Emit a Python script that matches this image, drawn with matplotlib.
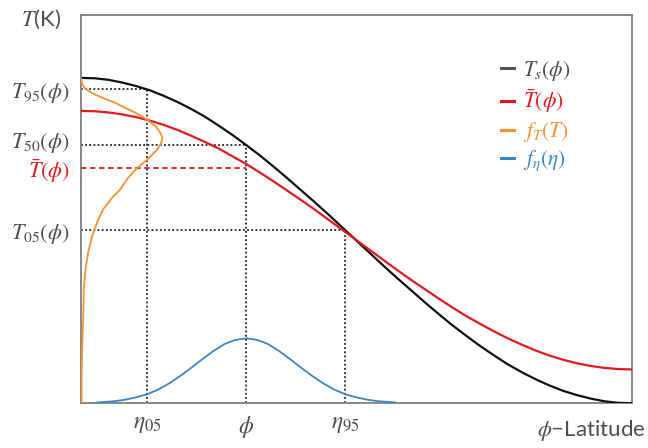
import matplotlib
matplotlib.use("Agg")
import matplotlib.pyplot as plt
from matplotlib.transforms import ScaledTranslation

plt.rcParams["font.family"] = ["Lato", "DejaVu Sans"]
plt.rcParams["mathtext.fontset"] = "stix"

# latitude axis (normalised) and the two temperature profiles
lat = [0.000, 0.025, 0.050, 0.075, 0.100, 0.125, 0.150, 0.175, 0.200, 0.225,
       0.250, 0.275, 0.300, 0.325, 0.350, 0.375, 0.400, 0.425, 0.450, 0.475,
       0.500, 0.525, 0.550, 0.575, 0.600, 0.625, 0.650, 0.675, 0.700, 0.725,
       0.750, 0.775, 0.800, 0.825, 0.850, 0.875, 0.900, 0.925, 0.950, 0.975, 1.000]
ts = [0.838, 0.837, 0.833, 0.826, 0.817, 0.806, 0.792, 0.776, 0.758, 0.738,
      0.715, 0.691, 0.665, 0.638, 0.609, 0.579, 0.548, 0.517, 0.485, 0.452,
      0.419, 0.386, 0.353, 0.321, 0.290, 0.259, 0.229, 0.200, 0.173, 0.147,
      0.123, 0.100, 0.080, 0.062, 0.046, 0.032, 0.021, 0.012, 0.005, 0.001, 0.000]
tbar = [0.753, 0.752, 0.749, 0.744, 0.737, 0.728, 0.717, 0.704, 0.689, 0.673,
        0.656, 0.636, 0.616, 0.594, 0.571, 0.547, 0.523, 0.498, 0.472, 0.446,
        0.420, 0.394, 0.368, 0.342, 0.317, 0.293, 0.269, 0.246, 0.224, 0.204,
        0.185, 0.167, 0.151, 0.136, 0.123, 0.112, 0.103, 0.096, 0.091, 0.088, 0.087]

# temperature pdf f_T(T), drawn sideways off the T axis
pdf_t_temp = [0.003, 0.062, 0.139, 0.216, 0.293, 0.344, 0.388, 0.429, 0.465, 0.499,
              0.532, 0.550, 0.576, 0.594, 0.607, 0.627, 0.653, 0.668, 0.684, 0.699,
              0.712, 0.725, 0.738, 0.751, 0.763, 0.774, 0.784, 0.794, 0.803, 0.812,
              0.822, 0.838]
pdf_t_dens = [0.001, 0.001, 0.002, 0.004, 0.005, 0.008, 0.013, 0.020, 0.029, 0.040,
              0.058, 0.071, 0.083, 0.094, 0.103, 0.120, 0.138, 0.145, 0.148, 0.143,
              0.136, 0.125, 0.112, 0.095, 0.077, 0.062, 0.044, 0.027, 0.015, 0.007,
              0.002, 0.000]

# latitude pdf f_eta(eta)
eta = [0.03, 0.04, 0.06, 0.08, 0.10, 0.12, 0.14, 0.16, 0.18, 0.20, 0.22, 0.24, 0.26, 0.28, 0.30,
       0.32, 0.34, 0.36, 0.38, 0.40, 0.42, 0.44, 0.46, 0.48, 0.50, 0.52, 0.54, 0.56, 0.57]
pdf_eta = [0.002, 0.003, 0.005, 0.009, 0.015, 0.023, 0.035, 0.051, 0.070, 0.091, 0.113, 0.134, 0.152,
           0.163, 0.167, 0.163, 0.152, 0.134, 0.113, 0.091, 0.070, 0.051, 0.035, 0.023, 0.015,
           0.009, 0.005, 0.003, 0.002]

# quantiles
phi = 0.30
eta05, eta95 = 0.12, 0.48
t95, t50, tmean, t05 = 0.809, 0.665, 0.607, 0.445

RED = "#e3191c"
ORANGE = "#f5922f"
BLUE = "#3a86c2"
GRAY = "#4d4d4d"

fig, ax = plt.subplots(figsize=(6.48, 4.48), dpi=100)
fig.subplots_adjust(left=0.125, right=0.975, bottom=0.100, top=0.9665)

ax.plot(lat, ts, color="#111111", lw=1.6, label=r"$T_s(\phi)$", zorder=3)
ax.plot(lat, tbar, color=RED, lw=1.6, label=r"$\bar{T}(\phi)$", zorder=3)
ax.plot(pdf_t_dens, pdf_t_temp, color=ORANGE, lw=1.3, label=r"$f_T(T)$", zorder=3)
ax.plot(eta, pdf_eta, color=BLUE, lw=1.3, label=r"$f_\eta(\eta)$", zorder=3)

# dotted guides from the quantiles
dot = dict(color="#222222", lw=1.3, ls=(0, (1, 1.3)), zorder=1)
for x, t in [(eta05, t95), (phi, t50), (eta95, t05)]:
    ax.plot([0, x], [t, t], **dot)
    ax.plot([x, x], [0, t], **dot)
ax.plot([0, phi], [tmean, tmean], color=RED, lw=1.3, ls=(0, (3, 2)), zorder=1)

ax.set_xlim(0, 1)
ax.set_ylim(0, 1)
ax.set_xticks([eta05, phi, eta95], [r"$\eta_{05}$", r"$\phi$", r"$\eta_{95}$"])
ax.set_yticks([t05, tmean, t50, t95],
              [r"$T_{05}(\phi)$", r"$\bar{T}(\phi)$", r"$T_{50}(\phi)$", r"$T_{95}(\phi)$"])
ax.tick_params(length=0, labelsize=16, colors=GRAY)
ax.tick_params(axis="x", labelsize=17, pad=8)
ax.tick_params(axis="y", pad=8)
ylabels = ax.get_yticklabels()
ylabels[1].set_color(RED)
ylabels[2].set_transform(ylabels[2].get_transform() + ScaledTranslation(0, 0.06, fig.dpi_scale_trans))

for s in ax.spines.values():
    s.set_color("#7f7f7f")
    s.set_linewidth(1.3)

ax.text(-0.073, 0.99, r"$T$(K)", transform=ax.transAxes, ha="center", va="center",
        fontsize=16, color=GRAY)
ax.text(1.024, -0.07, r"$\phi$−Latitude", transform=ax.transAxes, ha="right", va="center",
        fontsize=16, color=GRAY)

leg = ax.legend(loc="upper left", bbox_to_anchor=(0.743, 0.915), frameon=False, fontsize=15.5,
                handlelength=0.6, handletextpad=0.4, labelspacing=0.22, borderpad=0,
                labelcolor=[GRAY, RED, ORANGE, BLUE])
leg.legend_handles[0].set_color("#555555")
for h in leg.legend_handles:
    h.set_linewidth(2.2)

fig.savefig("out.png", dpi=100)
